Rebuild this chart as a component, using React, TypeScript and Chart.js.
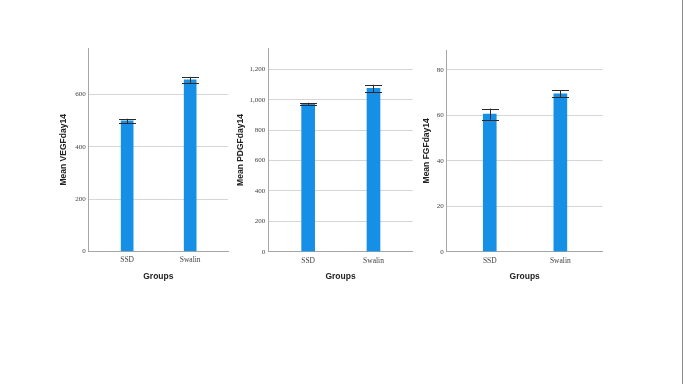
import React, { useEffect, useRef } from "react";
import { Chart, registerables } from "chart.js";

Chart.register(...registerables);

// ---- data ----
const categories = ["SSD", "Swalin"];
const vegfMeans = [499, 656];
const vegfErr = [8.3, 11.5];
const pdgfMeans = [973, 1074];
const pdgfErr = [7, 24];
const fgfMeans = [60.5, 69.4];
const fgfErr = [2.4, 1.5];
const vegfTicks = [0, 200, 400, 600];
const pdgfTicks = [0, 200, 400, 600, 800, 1000, 1200];
const fgfTicks = [0, 20, 40, 60, 80];
const yTitles = ["Mean VEGFday14", "Mean PDGFday14", "Mean FGFday14"];
const xTitle = "Groups";
const yMaxes = [777, 1338, 88.7];

// ---- layout (pixel placement only) ----
const layouts = [
  { L: 88.7, R: 228, T: 48.3, B: 251.3, titleX: 64, barW: 12 },
  { L: 268.3, R: 412.7, T: 48.3, B: 251.7, titleX: 241, barW: 13 },
  { L: 446.7, R: 602.7, T: 50, B: 251.7, titleX: 426.5, barW: 13 },
];

const BAR_COLOR = "#1590e6";
const TOP = 30;
const H = 254;
const SCALE_BOTTOM = 281.5;

function Panel({
  idx,
  means,
  errs,
  ticks,
}: {
  idx: number;
  means: number[];
  errs: number[];
  ticks: number[];
}) {
  const ref = useRef<HTMLCanvasElement | null>(null);
  const lay = layouts[idx];
  const cx = Math.round(lay.titleX - 5);
  const W = Math.round(lay.R + 6 - cx);

  useEffect(() => {
    if (!ref.current) return;
    const errPlugin = {
      id: "errbars" + idx,
      afterDatasetsDraw(chart: any) {
        const ctx = chart.ctx;
        const xs = chart.scales.x;
        const ys = chart.scales.y;
        ctx.save();
        ctx.strokeStyle = "#2a2a2a";
        ctx.lineWidth = 1;
        means.forEach((m, i) => {
          const x = Math.round(xs.getPixelForValue(i)) + 0.5;
          const yh = ys.getPixelForValue(m + errs[i]);
          const yl = ys.getPixelForValue(m - errs[i]);
          const hw = 8.5;
          ctx.beginPath();
          ctx.moveTo(x, yh);
          ctx.lineTo(x, yl);
          ctx.moveTo(x - hw, Math.round(yh) + 0.5);
          ctx.lineTo(x + hw, Math.round(yh) + 0.5);
          ctx.moveTo(x - hw, Math.round(yl) + 0.5);
          ctx.lineTo(x + hw, Math.round(yl) + 0.5);
          ctx.stroke();
        });
        ctx.restore();
      },
    };
    const chart = new Chart(ref.current, {
      type: "bar",
      data: {
        datasets: [
          {
            data: means.map((v, i) => ({ x: i, y: v })),
            backgroundColor: BAR_COLOR,
            borderWidth: 0,
            barThickness: lay.barW,
          } as any,
        ],
      },
      options: {
        animation: false,
        responsive: false,
        devicePixelRatio: 1,
        layout: {
          padding: {
            left: 0,
            right: W - (lay.R - cx),
            top: lay.T - TOP,
            bottom: H - (SCALE_BOTTOM - TOP),
          },
        },
        plugins: { legend: { display: false }, tooltip: { enabled: false } },
        scales: {
          x: {
            type: "linear",
            offset: false,
            min: -0.61,
            max: 1.6,
            grid: { display: false, drawTicks: false, offset: false },
            border: { display: true, color: "#a6a6a6", width: 1 },
            afterBuildTicks: (s: any) => {
              s.ticks = categories.map((_, i) => ({ value: i }));
            },
            afterFit: (s: any) => {
              s.height = SCALE_BOTTOM - lay.B;
            },
            ticks: {
              autoSkip: false,
              maxRotation: 0,
              minRotation: 0,
              padding: 4.5,
              color: "#444",
              font: { family: "'Liberation Serif', 'Times New Roman', serif", size: 7.5 },
              callback: (v: any) => categories[Math.round(Number(v))] ?? "",
            },
            title: {
              display: true,
              text: xTitle,
              color: "#222",
              padding: { top: 0, bottom: 0 },
              font: { family: "'Liberation Sans', Arial, sans-serif", size: 8.5, weight: "bold" },
            },
          },
          y: {
            type: "linear",
            min: 0,
            max: yMaxes[idx],
            grid: { color: "#d6d6d6", drawTicks: false, lineWidth: 1 },
            border: { display: true, color: "#a6a6a6", width: 1 },
            afterBuildTicks: (s: any) => {
              s.ticks = ticks.map((v) => ({ value: v }));
            },
            afterFit: (s: any) => {
              s.width = lay.L - cx;
            },
            ticks: {
              padding: 3,
              color: "#444",
              font: { family: "'Liberation Serif', 'Times New Roman', serif", size: 7 },
              callback: (v: any) => Number(v).toLocaleString("en-US"),
            },
            title: {
              display: true,
              text: yTitles[idx],
              color: "#222",
              padding: { top: 0, bottom: 0 },
              font: { family: "'Liberation Sans', Arial, sans-serif", size: 8.5, weight: "bold" },
            },
          },
        },
      } as any,
      plugins: [errPlugin],
    });
    return () => chart.destroy();
  }, []);

  return (
    <canvas
      ref={ref}
      width={W}
      height={H}
      style={{ position: "absolute", left: cx, top: TOP, width: W, height: H }}
    />
  );
}

export default function App() {
  return (
    <div
      style={{
        position: "absolute",
        left: 0,
        top: 0,
        width: 683,
        height: 384,
        background: "#fff",
        overflow: "hidden",
      }}
    >
      <Panel idx={0} means={vegfMeans} errs={vegfErr} ticks={vegfTicks} />
      <Panel idx={1} means={pdgfMeans} errs={pdgfErr} ticks={pdgfTicks} />
      <Panel idx={2} means={fgfMeans} errs={fgfErr} ticks={fgfTicks} />
      <div
        style={{ position: "absolute", left: 682, top: 0, width: 1, height: 384, background: "#8a8a8a" }}
      />
    </div>
  );
}
